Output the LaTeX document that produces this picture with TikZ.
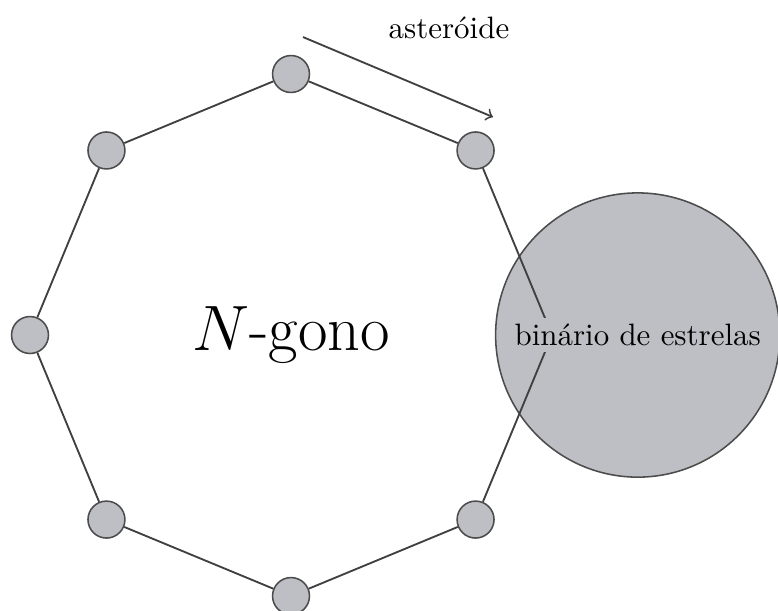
\documentclass[tikz,border=0pt]{standalone}
\definecolor{diagray}{RGB}{190,191,196}
\begin{document}
\begin{tikzpicture}[
  ball/.style={circle,draw=black!70,fill=diagray,line width=0.5pt,minimum size=0.42cm,inner sep=0pt},
  edge/.style={draw=black!75,line width=0.6pt}]
  \useasboundingbox (-3.307,-3.125) rectangle (5.534,3.807);
  % binary star
  \node[circle,draw=black!70,fill=diagray,line width=0.5pt,minimum size=3.23cm,inner sep=0pt] (bin) at (3.94,0) {};
  % polygon
  \coordinate (v0) at (0:2.966);
  \foreach \i in {1,...,7} \node[ball] (v\i) at (\i*45:2.966) {};
  \draw[edge] (v0) -- (v1) -- (v2) -- (v3) -- (v4) -- (v5) -- (v6) -- (v7) -- (v0);
  \node[fill=diagray,inner sep=2pt] (binlabel) at (bin.center) {binário de estrelas};
  \node[font=\huge] (ngono) at (0,0) {$N$-gono};
  % asteroid
  \coordinate (a0) at (0.136,3.386);
  \coordinate (a1) at (2.295,2.477);
  \draw[edge,->] (a0) -- (a1);
  \node (ast) at (1.795,3.489) {asteróide};
\end{tikzpicture}
\end{document}
